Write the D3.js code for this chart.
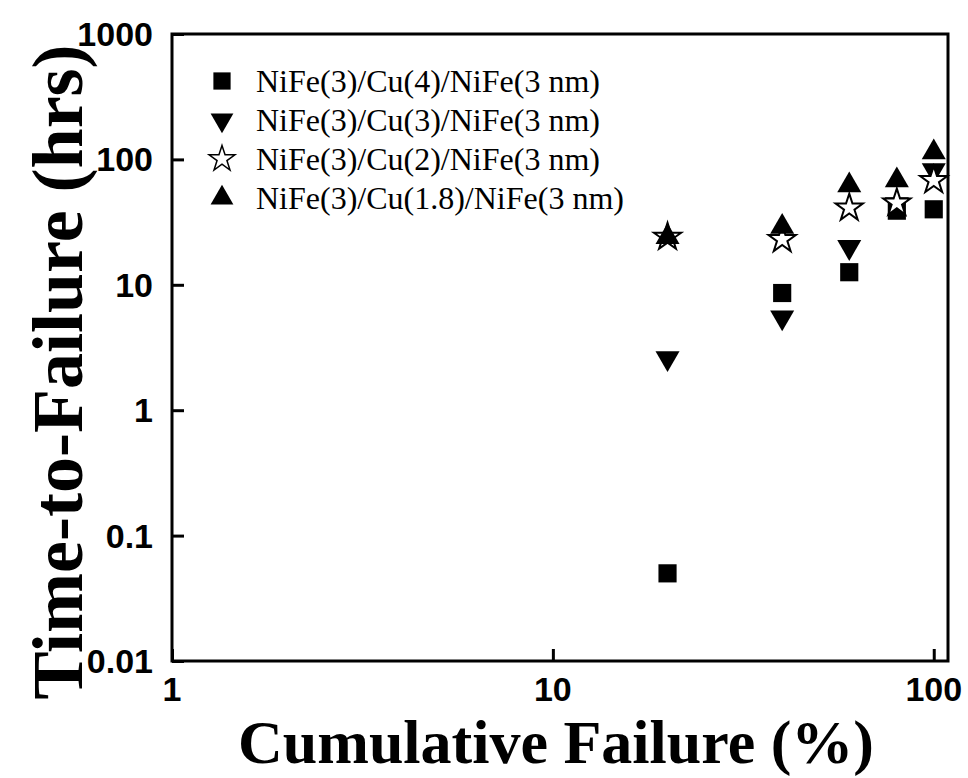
<!DOCTYPE html>
<html>
<head>
<meta charset="utf-8">
<script src="https://cdn.jsdelivr.net/npm/d3@7"></script>
<style>
  body { margin: 0; background: #fff; }
  .sans { font-family: 'Liberation Sans', Arial, sans-serif; font-weight: bold; }
  .serif { font-family: 'Liberation Serif', 'Times New Roman', serif; }
</style>
</head>
<body>
<div id="chart"></div>
<script>
// cumulative failure (%) for each point
var failurePct = [20, 40, 60, 80, 100];

// time-to-failure (hrs) per film stack
var cu4 = [0.05, 8.6, 12.6, 39, 40];
var cu3 = [2.6, 5.5, 20, 44, 82];
var cu2 = [24, 23, 41, 45, 68];
var cu18 = [24, 29, 62, 68, 114];

var seriesNames = [
  'NiFe(3)/Cu(4)/NiFe(3 nm)',
  'NiFe(3)/Cu(3)/NiFe(3 nm)',
  'NiFe(3)/Cu(2)/NiFe(3 nm)',
  'NiFe(3)/Cu(1.8)/NiFe(3 nm)'
];

var xTickLabels = [1, 10, 100];
var yTickLabels = [0.01, 0.1, 1, 10, 100, 1000];

var width = 968, height = 778;
var margin = {left: 172, right: 20, top: 34, bottom: 117};

var svg = d3.select('#chart').append('svg')
  .attr('width', width)
  .attr('height', height);

var x = d3.scaleLog().domain([1, 109]).range([margin.left, width - margin.right]);
var y = d3.scaleLog().domain([0.01, 1000]).range([height - margin.bottom, margin.top]);

// marker shapes, one per series
var shapes = [
  {type: d3.symbolSquare, size: 330, rotate: 0, fill: '#000'},
  {type: d3.symbolTriangle, size: 250, rotate: 180, fill: '#000'},
  {type: d3.symbolStar, size: 230, rotate: 0, fill: '#fff'},
  {type: d3.symbolTriangle, size: 250, rotate: 0, fill: '#000'}
];
var allSeries = [cu4, cu3, cu2, cu18];

// minor ticks first, then major ones
var xMinor = d3.range(2, 10).concat(d3.range(20, 100, 10));
var yMinor = [];
yTickLabels.slice(0, -1).forEach(function(p) {
  d3.range(2, 10).forEach(function(k) { yMinor.push(p * k); });
});

var gx = svg.append('g').attr('transform', 'translate(0,' + (height - margin.bottom) + ')');
gx.call(d3.axisBottom(x).tickValues(xMinor).tickSize(-6).tickFormat(''));
gx.call(d3.axisBottom(x).tickValues(xTickLabels).tickSize(-12).tickFormat(''));

var gy = svg.append('g').attr('transform', 'translate(' + margin.left + ',0)');
gy.call(d3.axisLeft(y).tickValues(yMinor).tickSize(-6).tickFormat(''));
gy.call(d3.axisLeft(y).tickValues(yTickLabels).tickSize(-12).tickFormat(''));

svg.selectAll('.domain').remove();
svg.selectAll('.tick line').attr('stroke', '#000').attr('stroke-width', 3);

// frame
svg.append('rect')
  .attr('x', margin.left)
  .attr('y', margin.top)
  .attr('width', width - margin.right - margin.left)
  .attr('height', height - margin.bottom - margin.top)
  .attr('fill', 'none')
  .attr('stroke', '#000')
  .attr('stroke-width', 3);

// tick labels
svg.selectAll('text.xlab')
  .data(xTickLabels)
  .enter().append('text')
  .attr('class', 'xlab sans')
  .attr('x', function(d) { return x(d); })
  .attr('y', 701)
  .attr('text-anchor', 'middle')
  .style('font-size', '34px')
  .text(function(d) { return d; });

svg.selectAll('text.ylab')
  .data(yTickLabels)
  .enter().append('text')
  .attr('class', 'ylab sans')
  .attr('x', 153)
  .attr('y', function(d) { return y(d) + 12; })
  .attr('text-anchor', 'end')
  .style('font-size', '34px')
  .text(function(d) { return d; });

// axis titles
svg.append('text')
  .attr('class', 'serif')
  .attr('x', 556)
  .attr('y', 763)
  .attr('text-anchor', 'middle')
  .style('font-weight', 'bold')
  .style('font-size', '62px')
  .text('Cumulative Failure (%)');

svg.append('text')
  .attr('class', 'serif')
  .attr('transform', 'translate(82,372) rotate(-90)')
  .attr('text-anchor', 'middle')
  .style('font-weight', 'bold')
  .style('font-size', '72px')
  .text('Time-to-Failure (hrs)');

// data points
allSeries.forEach(function(vals, i) {
  var s = shapes[i];
  svg.append('g').selectAll('path')
    .data(vals)
    .enter().append('path')
    .attr('d', d3.symbol().type(s.type).size(s.size))
    .attr('transform', function(d, j) {
      return 'translate(' + x(failurePct[j]) + ',' + y(d) + ') rotate(' + s.rotate + ')';
    })
    .attr('fill', s.fill)
    .attr('stroke', '#000')
    .attr('stroke-width', s.fill === '#fff' ? 2 : 0);
});

// legend
var legend = svg.append('g');
var rowY = [81, 120, 159, 198];
seriesNames.forEach(function(name, i) {
  var s = shapes[i];
  legend.append('path')
    .attr('d', d3.symbol().type(s.type).size(s.size * 0.9))
    .attr('transform', 'translate(222,' + rowY[i] + ') rotate(' + s.rotate + ')')
    .attr('fill', s.fill)
    .attr('stroke', '#000')
    .attr('stroke-width', s.fill === '#fff' ? 1.5 : 0);
  legend.append('text')
    .attr('class', 'serif')
    .attr('x', 256)
    .attr('y', rowY[i] + 11)
    .style('font-size', '32px')
    .text(name);
});
</script>
</body>
</html>
